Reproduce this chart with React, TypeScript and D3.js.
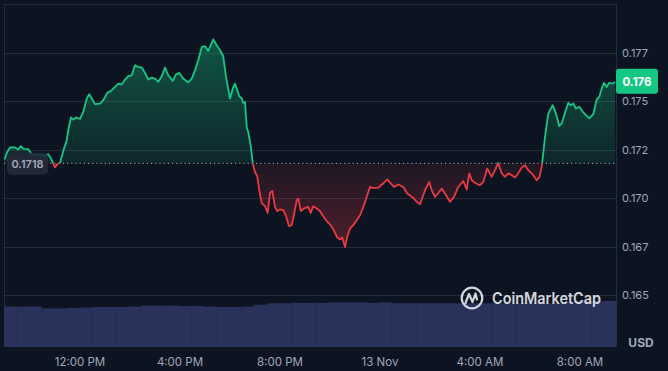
import React from 'react';
import * as d3 from 'd3';

// price series: hours since 12 Nov 00:00, price in USD
const hours = [
  8.98, 9.09, 9.2, 9.4, 9.53, 9.63, 9.73, 9.93, 10.07, 10.2, 10.4, 10.53, 10.73, 10.83, 10.93, 11.0, 11.09, 11.2,
  11.33, 11.47, 11.53, 11.64, 11.73, 11.84, 12.0, 12.13, 12.27, 12.37, 12.47, 12.6, 12.8, 12.93, 13.09, 13.27,
  13.4, 13.53, 13.67, 13.8, 13.93, 14.07, 14.2, 14.33, 14.47, 14.6, 14.73, 14.87, 15.0, 15.13, 15.27, 15.4,
  15.53, 15.71, 15.84, 15.97, 16.13, 16.33, 16.47, 16.6, 16.73, 16.87, 17.0, 17.13, 17.33, 17.47, 17.6, 17.73,
  17.84, 18.0, 18.11, 18.2, 18.29, 18.37, 18.47, 18.53, 18.6, 18.67, 18.73, 18.83, 18.91, 19.0, 19.09, 19.17,
  19.27, 19.4, 19.51, 19.6, 19.69, 19.8, 19.89, 20.0, 20.13, 20.23, 20.36, 20.47, 20.53, 20.67, 20.73, 20.83,
  20.96, 21.13, 21.23, 21.33, 21.47, 21.6, 21.73, 21.89, 22.03, 22.16, 22.29, 22.4, 22.49, 22.6, 22.69, 22.8,
  22.93, 23.07, 23.2, 23.36, 23.49, 23.6, 23.73, 23.93, 24.13, 24.29, 24.43, 24.56, 24.73, 24.93, 25.09, 25.31,
  25.47, 25.6, 25.8, 25.97, 26.07, 26.2, 26.33, 26.47, 26.64, 26.8, 26.96, 27.13, 27.33, 27.47, 27.57, 27.67,
  27.84, 28.0, 28.13, 28.29, 28.47, 28.6, 28.73, 28.87, 29.0, 29.13, 29.27, 29.4, 29.53, 29.67, 29.8, 29.93,
  30.13, 30.27, 30.37, 30.47, 30.53, 30.6, 30.73, 30.91, 31.04, 31.17, 31.27, 31.4, 31.53, 31.63, 31.73, 31.84,
  31.97, 32.11, 32.24, 32.37, 32.53, 32.67, 32.77, 32.87, 32.96, 33.07, 33.17, 33.31, 33.4,
];
const prices = [
  0.172, 0.17239, 0.17262, 0.17262, 0.17252, 0.17269, 0.17255, 0.17253, 0.17227, 0.17227, 0.17222, 0.17217,
  0.17227, 0.17207, 0.17179, 0.17159, 0.17176, 0.17182, 0.17244, 0.173, 0.17351, 0.17417, 0.17406, 0.17417,
  0.1741, 0.17446, 0.17515, 0.17537, 0.17515, 0.17486, 0.17489, 0.17506, 0.17544, 0.17558, 0.17575, 0.17592,
  0.17587, 0.17613, 0.1763, 0.17635, 0.17687, 0.17678, 0.17675, 0.17647, 0.17613, 0.17623, 0.17618, 0.17601,
  0.1763, 0.17675, 0.17635, 0.17606, 0.1764, 0.17647, 0.17618, 0.17598, 0.17618, 0.17661, 0.17713, 0.17781,
  0.17785, 0.17761, 0.1782, 0.1779, 0.17764, 0.17733, 0.17627, 0.17515, 0.17567, 0.17592, 0.17558, 0.17527,
  0.17515, 0.17492, 0.17497, 0.17365, 0.17342, 0.17269, 0.17181, 0.17134, 0.17114, 0.17041, 0.16973, 0.16959,
  0.16924, 0.17027, 0.17038, 0.16955, 0.16934, 0.16942, 0.16938, 0.16912, 0.16855, 0.16861, 0.16895, 0.1699,
  0.16998, 0.16934, 0.16947, 0.16955, 0.16924, 0.16959, 0.16947, 0.16934, 0.16907, 0.16878, 0.16861, 0.16831,
  0.16797, 0.16787, 0.16797, 0.16748, 0.168, 0.16843, 0.16861, 0.16886, 0.16912, 0.16964, 0.17015, 0.17058,
  0.17052, 0.17055, 0.17076, 0.17097, 0.17076, 0.17058, 0.17071, 0.17058, 0.17024, 0.17004, 0.16981, 0.16969,
  0.17041, 0.17084, 0.17041, 0.17007, 0.17027, 0.1705, 0.17015, 0.16981, 0.17007, 0.17058, 0.17089, 0.17045,
  0.17128, 0.17093, 0.17076, 0.17067, 0.17084, 0.17153, 0.1711, 0.17145, 0.17182, 0.17128, 0.1711, 0.17128,
  0.17119, 0.17107, 0.17128, 0.17159, 0.1717, 0.17145, 0.17119, 0.17093, 0.17107, 0.17162, 0.17231, 0.17317,
  0.17437, 0.1748, 0.17437, 0.17372, 0.17386, 0.17441, 0.17492, 0.1748, 0.17489, 0.17463, 0.17472, 0.17446,
  0.17429, 0.17412, 0.17434, 0.1751, 0.17523, 0.17567, 0.17596, 0.17575, 0.17596, 0.17592, 0.17601,
];
const basePrice = 0.1718;

// half-hour volume (relative)
const volumes = [
  86, 86, 86, 82, 82, 83, 84, 85, 85, 85, 86, 88, 88, 88, 87, 87, 86, 85, 85, 86, 90, 93, 93, 94, 94, 94, 95,
  95, 95, 94, 95, 93, 93, 93, 93, 93, 93, 93, 93, 93, 93, 93, 93, 93, 93, 97, 98, 98, 98,
];

const yTicks = [0.165, 0.1675, 0.17, 0.1725, 0.175, 0.1775];
const yTickLabels = ['0.165', '0.167', '0.170', '0.172', '0.175', '0.177'];
const xTickHours = [12, 16, 20, 24, 28, 32];
const xTickLabels = ['12:00 PM', '4:00 PM', '8:00 PM', '13 Nov', '4:00 AM', '8:00 AM'];

const W = 668;
const H = 371;
const left = 4;
const right = 616;
const top = 4;
const volBottom = 347;

const day0 = new Date(2023, 10, 12).getTime();
const toDate = (h: number) => new Date(day0 + h * 3600e3);

const GREEN = '#16c784';
const RED = '#ea3943';
const AXIS = '#a1a7bb';
const GRID = '#262b38';
const FONT = 'Inter, "Noto Sans", sans-serif';

const App: React.FC = () => {
  const x = d3.scaleTime().domain([toDate(8.96), toDate(33.44)]).range([left, right]);
  const y = d3.scaleLinear().domain([0.165, 0.1775]).range([295, 53]);
  const yVol = d3.scaleLinear().domain([0, 100]).range([volBottom, 300]);

  const data = hours.map((h, i) => ({ t: toDate(h), p: prices[i] }));
  const baseY = y(basePrice);

  const line = d3.line<{ t: Date; p: number }>().x(d => x(d.t)).y(d => y(d.p));
  const area = d3.area<{ t: Date; p: number }>().x(d => x(d.t)).y0(baseY).y1(d => y(d.p));

  const peakY = y(d3.max(prices) as number);
  const lowY = y(d3.min(prices) as number);
  const last = prices[prices.length - 1];
  const lastY = y(last);

  return (
    <svg width={W} height={H} style={{ position: 'fixed', left: 0, top: 0, display: 'block' }} fontFamily={FONT}>
      <defs>
        <linearGradient id="gUp" gradientUnits="userSpaceOnUse" x1={0} y1={peakY} x2={0} y2={baseY}>
          <stop offset="0" stopColor={GREEN} stopOpacity={0.36} />
          <stop offset="1" stopColor={GREEN} stopOpacity={0.1} />
        </linearGradient>
        <linearGradient id="gDown" gradientUnits="userSpaceOnUse" x1={0} y1={baseY} x2={0} y2={lowY}>
          <stop offset="0" stopColor={RED} stopOpacity={0.08} />
          <stop offset="1" stopColor={RED} stopOpacity={0.3} />
        </linearGradient>
        <clipPath id="cUp">
          <rect x={0} y={0} width={W} height={baseY} />
        </clipPath>
        <clipPath id="cDown">
          <rect x={0} y={baseY} width={W} height={H - baseY} />
        </clipPath>
      </defs>

      <rect width={W} height={H} fill="#0d1421" />

      {/* frame + grid */}
      <line x1={left + 0.5} x2={left + 0.5} y1={top} y2={volBottom} stroke={GRID} />
      <line x1={right + 0.5} x2={right + 0.5} y1={top} y2={volBottom} stroke={GRID} />
      <line x1={left} x2={right} y1={top + 0.5} y2={top + 0.5} stroke={GRID} />
      {yTicks.map(t => (
        <line key={t} x1={left} x2={right} y1={Math.round(y(t)) + 0.5} y2={Math.round(y(t)) + 0.5} stroke={GRID} />
      ))}

      {/* volume */}
      {volumes.map((v, i) => {
        const x0 = x(toDate(8.96 + i * 0.5));
        const x1 = x(toDate(8.96 + (i + 1) * 0.5));
        return (
          <rect key={i} x={x0} y={yVol(v)} width={Math.max(0, x1 - x0 + 0.3)} height={volBottom - yVol(v)} fill="#29325a" />
        );
      })}

      {/* areas */}
      <path d={area(data) || ''} fill="url(#gUp)" clipPath="url(#cUp)" />
      <path d={area(data) || ''} fill="url(#gDown)" clipPath="url(#cDown)" />

      {/* base line */}
      <line x1={left} x2={right} y1={baseY} y2={baseY} stroke="#c9ccd4" strokeOpacity={0.8} strokeDasharray="1.2,3" />

      {/* price line */}
      <path d={line(data) || ''} fill="none" stroke={GREEN} strokeWidth={1.8} strokeLinejoin="round" clipPath="url(#cUp)" />
      <path d={line(data) || ''} fill="none" stroke={RED} strokeWidth={1.8} strokeLinejoin="round" clipPath="url(#cDown)" />

      {/* y axis labels */}
      {yTicks.map((t, i) => (
        <text key={t} x={622} y={y(t) + 4} fontSize={11} fill={AXIS}>
          {yTickLabels[i]}
        </text>
      ))}
      <text x={641} y={347} fontSize={12} fontWeight={700} fill={AXIS} textAnchor="middle">
        USD
      </text>

      {/* x axis labels */}
      {xTickHours.map((h, i) => (
        <text key={h} x={x(toDate(h))} y={365.5} fontSize={11.5} fill={AXIS} textAnchor="middle">
          {xTickLabels[i]}
        </text>
      ))}

      {/* base price tag */}
      <rect x={7} y={baseY - 10.5} width={41} height={22} rx={5} fill="#232937" fillOpacity={0.9} />
      <text x={27.5} y={baseY + 4.5} fontSize={11} fontWeight={600} fill={AXIS} textAnchor="middle">
        {String(basePrice)}
      </text>

      {/* current price tag */}
      <rect x={right} y={lastY - 13} width={42} height={25} rx={3} fill={GREEN} />
      <text x={637} y={lastY + 4} fontSize={11.5} fontWeight={700} fill="#ffffff" textAnchor="middle">
        {d3.format('.3f')(last)}
      </text>

      {/* watermark */}
      <g transform="translate(472,298)" opacity={0.9}>
        <circle r={10.3} fill="none" stroke="#e8eaf0" strokeWidth={2.2} />
        <path d="M-6.5,5 L-3,-4 L0.5,4 L3.5,-4.5 L5,1.5" fill="none" stroke="#e8eaf0" strokeWidth={2.2} strokeLinejoin="round" strokeLinecap="round" />
      </g>
      <text x={492} y={304} fontSize={16} fontWeight={600} fill="#e8eaf0" opacity={0.9} textLength={109} lengthAdjust="spacingAndGlyphs">
        CoinMarketCap
      </text>
    </svg>
  );
};

export default App;
